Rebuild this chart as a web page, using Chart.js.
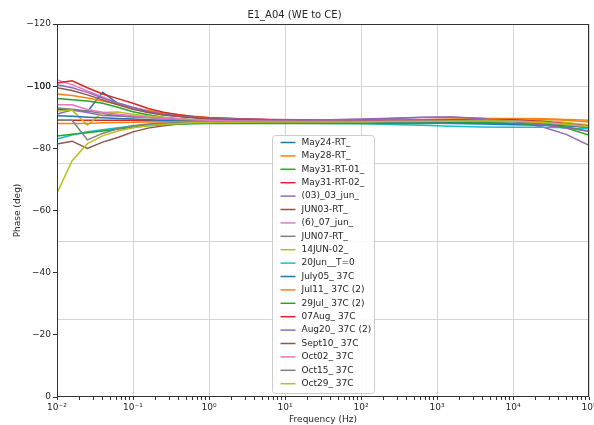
<!DOCTYPE html>
<html>
<head>
<meta charset="utf-8">
<script src="https://cdn.jsdelivr.net/npm/chart.js@4.4.1/dist/chart.umd.min.js"></script>
<style>
  html, body { margin: 0; padding: 0; background: #fff; }
</style>
</head>
<body>
<canvas id="phaseChart" width="594" height="425"></canvas>
<script>
const freqHz = [0.01, 0.0158, 0.0251, 0.0398, 0.0631, 0.1, 0.158, 0.251, 0.398, 0.631, 1, 2.51, 6.31, 15.8, 39.8, 100, 251, 631, 1585, 3981, 10000, 25119, 50119, 100000];

const seriesLabels = [
  "May24-RT_", "May28-RT_", "May31-RT-01_", "May31-RT-02_", "(03)_03_jun_", "JUN03-RT_",
  "(6)_07_jun_", "JUN07-RT_", "14JUN-02_", "20Jun__T=0", "July05_ 37C", "Jul11_ 37C (2)",
  "29Jul_ 37C (2)", "07Aug_ 37C", "Aug20_ 37C (2)", "Sept10_ 37C", "Oct02_ 37C", "Oct15_ 37C", "Oct29_ 37C",
];

const may24 = [-92.5, -92.3, -91.8, -98, -94.5, -93, -91.8, -91, -90.4, -89.9, -89.5, -89.2, -89, -88.9, -88.8, -88.7, -88.6, -88.5, -88.3, -88.2, -88, -87.8, -87.5, -87];
const may28 = [-97.5, -97, -96.2, -95.2, -94.2, -93, -92.2, -91.4, -90.8, -90.3, -89.9, -89.5, -89.2, -89, -88.9, -88.8, -88.8, -88.9, -89.2, -89.4, -89.5, -89.3, -89, -88.5];
const may31a = [-96, -95.6, -95.2, -94.5, -93.2, -91.8, -90.8, -90, -89.5, -89.1, -88.8, -88.6, -88.4, -88.3, -88.2, -88.2, -88.3, -88.5, -88.8, -89, -88.8, -87.8, -86.5, -84.3];
const may31b = [-89, -89, -89, -89, -89, -89, -88.9, -88.8, -88.8, -88.8, -88.8, -88.7, -88.7, -88.6, -88.6, -88.6, -88.7, -88.8, -89, -89.2, -89.1, -88.5, -87.6, -86.5];
const jun03a = [-91, -92.3, -91.5, -90.6, -90.4, -90.2, -90, -89.7, -89.4, -89.2, -89, -88.9, -88.8, -88.9, -89.1, -89.3, -89.6, -89.9, -90, -89.7, -88.8, -86.8, -84.5, -81];
const jun03b = [-81.4, -82.3, -80, -82, -83.5, -85.3, -86.5, -87.3, -87.8, -88.1, -88.3, -88.5, -88.6, -88.6, -88.7, -88.7, -88.7, -88.8, -88.9, -89, -88.9, -88.4, -87.8, -87];
const jun07a = [-102, -100.5, -98.5, -96.5, -94.5, -93, -91.6, -90.8, -90.3, -89.9, -89.6, -89.3, -89.1, -89, -88.9, -88.8, -88.8, -88.8, -88.9, -89, -88.9, -88.3, -87.5, -86.8];
const jun07b = [-93, -92.6, -92, -91.2, -90.5, -90.1, -89.8, -89.5, -89.3, -89.1, -89, -88.9, -88.8, -88.7, -88.7, -88.7, -88.7, -88.7, -88.8, -88.9, -88.7, -88.2, -87.5, -86.7];
const jun14 = [-92, -92.3, -87.5, -91.5, -91.7, -91, -90.4, -89.9, -89.5, -89.2, -89, -88.9, -88.8, -88.7, -88.7, -88.7, -88.8, -88.9, -89.2, -89.4, -89.3, -88.9, -88.3, -87.5];
const jun20 = [-83, -84.3, -85.3, -86, -86.6, -87.2, -87.6, -87.8, -88, -88.1, -88.2, -88.2, -88.2, -88.1, -88, -87.9, -87.7, -87.4, -87.1, -86.9, -86.8, -86.8, -86.6, -86.3];
const jul05 = [-90.5, -90.3, -90, -89.8, -89.6, -89.4, -89.2, -89, -88.9, -88.8, -88.7, -88.6, -88.5, -88.5, -88.4, -88.4, -88.3, -88.2, -88, -87.8, -87.6, -87.4, -87.2, -87];
const jul11 = [-88, -88, -88, -88.2, -88.3, -88.4, -88.5, -88.5, -88.6, -88.6, -88.7, -88.7, -88.8, -88.8, -88.9, -89, -89.1, -89.2, -89.4, -89.6, -89.6, -89.5, -89.3, -89];
const jul29 = [-84, -84.5, -85, -85.6, -86.2, -86.8, -87.3, -87.6, -87.8, -87.9, -88, -88, -88, -88, -88, -88, -88, -88, -88.1, -88.2, -88.1, -87.6, -86.8, -85.5];
const aug07 = [-101, -101.7, -99.5, -97.5, -96, -94.5, -92.8, -91.6, -90.8, -90.2, -89.8, -89.5, -89.3, -89.2, -89.1, -89, -89, -89, -89.1, -89.3, -89.2, -88.6, -87.8, -87];
const aug20 = [-100.5, -99.5, -98, -96.2, -94.6, -93.2, -91.9, -91, -90.4, -90, -89.7, -89.4, -89.2, -89.1, -89.2, -89.4, -89.7, -90, -90.1, -89.5, -88.6, -87.5, -86.5, -85.5];
const sep10 = [-99.5, -98.6, -97.2, -95.6, -94, -92.6, -91.5, -90.7, -90.2, -89.8, -89.5, -89.2, -89, -88.9, -88.8, -88.8, -88.8, -88.8, -88.9, -89, -88.9, -88.5, -87.9, -87.2];
const oct02 = [-94, -94, -92.5, -91.6, -91, -90.5, -90, -89.7, -89.4, -89.2, -89, -88.9, -88.8, -88.7, -88.7, -88.7, -88.7, -88.8, -88.9, -89, -88.9, -88.4, -87.8, -87];
const oct15 = [-89, -89, -82.7, -84.8, -86.3, -87.3, -87.8, -88.1, -88.3, -88.4, -88.5, -88.6, -88.6, -88.6, -88.6, -88.6, -88.6, -88.7, -88.8, -88.9, -88.8, -88.3, -87.6, -86.8];
const oct29 = [-65.6, -76, -81.5, -84, -85.6, -86.6, -87.3, -87.7, -88, -88.2, -88.3, -88.4, -88.5, -88.5, -88.5, -88.5, -88.6, -88.6, -88.7, -88.8, -88.7, -88.3, -87.7, -87];

const seriesValues = [may24, may28, may31a, may31b, jun03a, jun03b, jun07a, jun07b, jun14, jun20, jul05, jul11, jul29, aug07, aug20, sep10, oct02, oct15, oct29];

const phaseTicks = [-120, -100, -80, -60, -40, -20, 0];
const phaseGrid = [-100, -75, -50, -25];

const palette = ["#1f77b4", "#ff7f0e", "#2ca02c", "#d62728", "#9467bd", "#8c564b", "#e377c2", "#7f7f7f", "#bcbd22", "#17becf"];
const supChars = { "-": "⁻", "0": "⁰", "1": "¹", "2": "²", "3": "³", "4": "⁴", "5": "⁵" };
const textColor = "#262626";
const gridColor = "#d4d4d4";

const isDecade = (v) => Math.abs(Math.log10(v) - Math.round(Math.log10(v))) < 1e-6;
const decadeLabel = (v) => "10" + String(Math.round(Math.log10(v))).split("").map((c) => supChars[c]).join("");

const datasets = seriesLabels.map((label, i) => ({
  label,
  data: freqHz.map((f, j) => ({ x: f, y: seriesValues[i][j] })),
  borderColor: palette[i % palette.length],
  backgroundColor: palette[i % palette.length],
  borderWidth: 1.5,
  pointRadius: 0,
  tension: 0,
  fill: false,
  order: seriesLabels.length - i,
}));

// box around the plot plus matplotlib-style legend inside it
const frameLegend = {
  id: "frameLegend",
  afterDraw(chart) {
    const { ctx, chartArea } = chart;
    ctx.save();
    ctx.strokeStyle = "#333";
    ctx.lineWidth = 1;
    ctx.strokeRect(chartArea.left + 0.5, chartArea.top + 0.5, chartArea.width - 1, chartArea.height - 1);

    const rowH = 13.4;
    const boxW = 102;
    const boxH = 258;
    const bx = Math.round((chartArea.left + chartArea.right) / 2 - boxW / 2) + 0.5;
    const by = Math.round(chartArea.bottom - 4 - boxH) + 0.5;
    ctx.fillStyle = "rgba(255,255,255,0.85)";
    ctx.strokeStyle = "#cccccc";
    ctx.beginPath();
    ctx.roundRect(bx, by, boxW, boxH, 3);
    ctx.fill();
    ctx.stroke();

    ctx.font = "9px 'DejaVu Sans'";
    ctx.textBaseline = "middle";
    ctx.textAlign = "left";
    chart.data.datasets.forEach((ds, i) => {
      const y = by + 7 + i * rowH;
      ctx.strokeStyle = ds.borderColor;
      ctx.lineWidth = 1.5;
      ctx.beginPath();
      ctx.moveTo(bx + 8, y);
      ctx.lineTo(bx + 23, y);
      ctx.stroke();
      ctx.fillStyle = textColor;
      ctx.fillText(ds.label, bx + 29, y);
    });
    ctx.restore();
  },
};

new Chart(document.getElementById("phaseChart"), {
  type: "line",
  data: { datasets },
  plugins: [frameLegend],
  options: {
    responsive: false,
    animation: false,
    events: [],
    layout: { padding: { left: 0, right: 5, top: 0, bottom: 0 } },
    plugins: {
      legend: { display: false },
      tooltip: { enabled: false },
      title: {
        display: true,
        text: "E1_A04 (WE to CE)",
        color: textColor,
        font: { family: "DejaVu Sans", size: 10, weight: "normal" },
        padding: { top: 9, bottom: 3 },
      },
    },
    scales: {
      x: {
        type: "logarithmic",
        min: 0.01,
        max: 100000,
        afterBuildTicks: (scale) => {
          const ticks = [];
          for (let d = -2; d <= 4; d++) {
            for (let k = 1; k <= 9; k++) ticks.push({ value: Number((k * Math.pow(10, d)).toPrecision(3)) });
          }
          ticks.push({ value: 100000 });
          scale.ticks = ticks;
        },
        afterFit: (scale) => {
          scale.height = 28;
          scale.paddingLeft = 0;
          scale.paddingRight = 0;
        },
        ticks: {
          autoSkip: false,
          maxRotation: 0,
          padding: 2,
          color: textColor,
          font: { family: "DejaVu Sans", size: 9 },
          callback: (v) => (isDecade(v) ? decadeLabel(v) : ""),
        },
        grid: {
          color: (c) => (c.tick && isDecade(c.tick.value) ? gridColor : "rgba(0,0,0,0)"),
          tickColor: "#333",
          tickLength: 3,
          lineWidth: 1,
        },
        border: { display: false },
        title: {
          display: true,
          text: "Frequency (Hz)",
          color: textColor,
          font: { family: "DejaVu Sans", size: 9 },
          padding: { top: 0, bottom: 0 },
        },
      },
      y: {
        type: "linear",
        reverse: true,
        min: -120,
        max: 0,
        afterBuildTicks: (scale) => {
          scale.ticks = [...phaseTicks, ...phaseGrid].sort((a, b) => a - b).map((v) => ({ value: v }));
        },
        afterFit: (scale) => {
          scale.width = 57;
          scale.paddingTop = 0;
          scale.paddingBottom = 0;
        },
        ticks: {
          autoSkip: false,
          padding: 2,
          color: textColor,
          font: { family: "DejaVu Sans", size: 9 },
          callback: (v) => (phaseTicks.includes(v) ? (v < 0 ? "\u2212" + Math.abs(v) : String(v)) : ""),
        },
        grid: {
          color: (c) => (c.tick && phaseGrid.includes(c.tick.value) ? gridColor : "rgba(0,0,0,0)"),
          tickColor: (c) => (c.tick && phaseTicks.includes(c.tick.value) ? "#333" : "rgba(0,0,0,0)"),
          tickLength: 4,
          lineWidth: 1,
        },
        border: { display: false },
        title: {
          display: true,
          text: "Phase (deg)",
          color: textColor,
          font: { family: "DejaVu Sans", size: 9 },
          padding: { top: 12, bottom: 0 },
        },
      },
    },
  },
});
</script>
</body>
</html>
